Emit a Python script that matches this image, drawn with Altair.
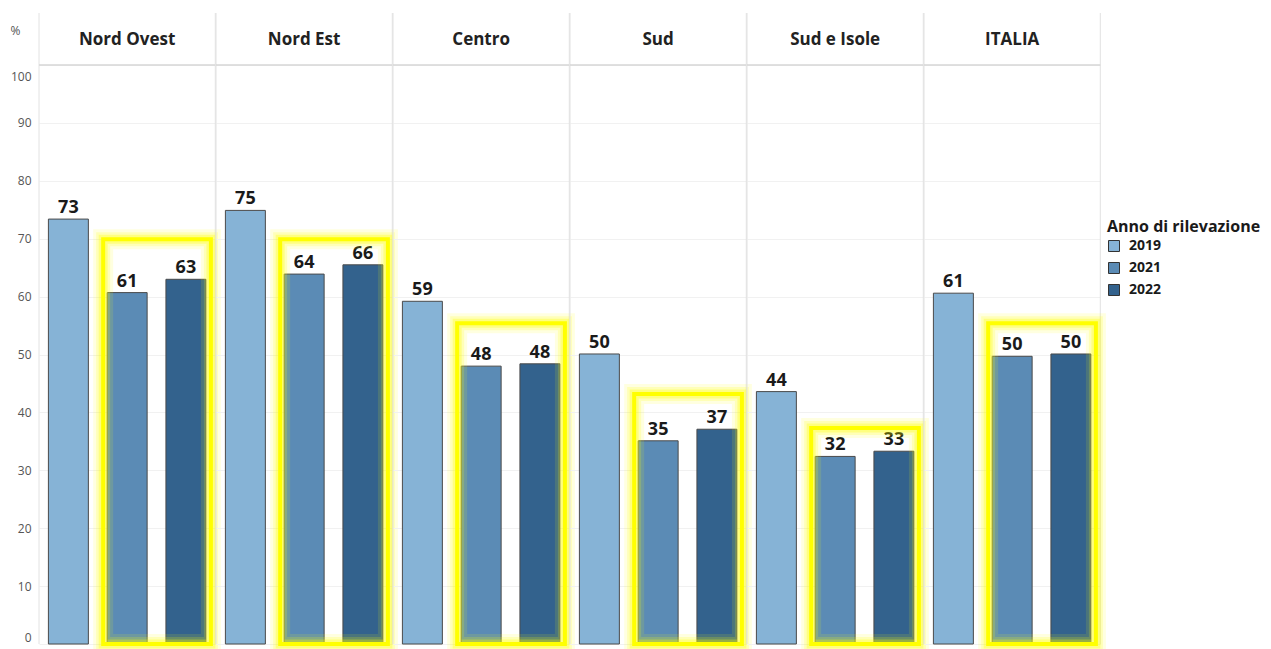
import altair as alt
import pandas as pd

regions = ["Nord Ovest", "Nord Est", "Centro", "Sud", "Sud e Isole", "ITALIA"]
years = ["2019", "2021", "2022"]
v2019 = [73.4, 74.9, 59.2, 50.1, 43.6, 60.6]
v2021 = [60.7, 63.9, 48.0, 35.1, 32.4, 49.7]
v2022 = [63.0, 65.5, 48.4, 37.1, 33.3, 50.1]
box_top = [69.9, 69.9, 55.4, 43.2, 37.3, 55.4]
colors = ["#86b3d6", "#5b8bb5", "#33628d"]
y_ticks = [0, 10, 20, 30, 40, 50, 60, 70, 80, 90, 100]

rows = []
for i, r in enumerate(regions):
    for y, vals in zip(years, [v2019, v2021, v2022]):
        rows.append({"region": r, "kind": "bar", "year": y, "value": vals[i]})
    rows.append({"region": r, "kind": "box", "start": "2021", "end": "2022",
                 "top": box_top[i]})
    rows.append({"region": r, "kind": "head", "mid": "2021"})
df = pd.DataFrame(rows)

W, H = 176.3, 631
xscale = alt.Scale(domain=years, paddingInner=0.32, paddingOuter=0.16)
yscale = alt.Scale(domain=[0, 109], nice=False)
FONT = "Open Sans"

base = alt.Chart()

bars = base.transform_filter(alt.datum.kind == "bar").mark_bar(
    stroke="#4a4a4a", strokeWidth=1
).encode(
    x=alt.X("year:N", scale=xscale, axis=None),
    y=alt.Y("value:Q", scale=yscale,
            axis=alt.Axis(values=y_ticks, title="%", grid=True, gridColor="#f1f1f1",
                          domain=False, ticks=False, labelFontSize=12,
                          labelColor="#555555", labelPadding=8, labelFont=FONT,
                          labelFlush=True,
                          labelOffset={"condition": {"test": "datum.value == 100",
                                                     "value": 11},
                                       "value": 0},
                          titleAngle=0, titleX=-29, titleY=17, titleAlign="left",
                          titleBaseline="middle", titleFontSize=12,
                          titleFontWeight="normal", titleColor="#555555",
                          titleFont=FONT)),
    color=alt.Color("year:N", scale=alt.Scale(domain=years, range=colors),
                    legend=alt.Legend(title="Anno di rilevazione", orient="none",
                                      legendX=1068, legendY=206,
                                      titleFontSize=16, titleFontWeight="bold",
                                      titleColor="#1a1a1a", titleFont=FONT,
                                      labelFontSize=14, labelFontWeight="bold",
                                      labelColor="#1a1a1a", labelFont=FONT,
                                      labelOffset=8,
                                      symbolType="square", symbolSize=121,
                                      symbolStrokeColor="#333333",
                                      symbolStrokeWidth=1, rowPadding=6,
                                      titlePadding=4)),
)

labels = base.transform_filter(alt.datum.kind == "bar").mark_text(
    baseline="alphabetic", dy=-6, fontSize=18, fontWeight="bold",
    font=FONT, color="#1a1a1a"
).encode(
    x=alt.X("year:N", scale=xscale, axis=None),
    y=alt.Y("value:Q", scale=yscale),
    text=alt.Text("value:Q", format=".0f"),
)

def glow(width, opacity):
    return base.transform_filter(alt.datum.kind == "box").mark_rect(
        fillOpacity=0, stroke="#ffff00", strokeWidth=width,
        strokeOpacity=opacity, xOffset=-4, x2Offset=5
    ).encode(
        x=alt.X("start:N", scale=xscale, axis=None, bandPosition=0),
        x2=alt.X2("end", bandPosition=1),
        y=alt.Y("top:Q", scale=yscale),
        y2=alt.datum(0),
    )

glows = [glow(20, 0.12), glow(14, 0.18), glow(9, 0.3), glow(4, 1.0)]

header = base.transform_filter(alt.datum.kind == "head").mark_text(
    fontSize=17, fontWeight="bold", font=FONT, color="#222222", baseline="middle"
).encode(
    x=alt.X("mid:N", scale=xscale, axis=None),
    y=alt.datum(104.4),
    text="region:N",
)

head_line = base.transform_filter(alt.datum.kind == "head").mark_rule(
    color="#d6d6d6", strokeWidth=1.5
).encode(y=alt.datum(100))

vline_l = base.transform_filter(alt.datum.kind == "head").mark_rule(
    color="#e2e2e2", strokeWidth=1
).encode(x=alt.value(0))
vline_r = base.transform_filter(alt.datum.kind == "head").mark_rule(
    color="#e2e2e2", strokeWidth=1
).encode(x=alt.value(W))

layered = alt.layer(vline_l, vline_r, head_line, bars, labels, *glows, header).properties(
    width=W, height=H
)

chart = layered.facet(
    data=df,
    column=alt.Column("region:N", sort=regions,
                      header=alt.Header(labels=False, title=None)),
    spacing=0,
    bounds="flush",
).properties(
    padding={"left": 10, "top": 12, "right": 5, "bottom": 5}
).configure_view(strokeOpacity=0)

chart.save("out.html", embed_options={"renderer": "svg", "actions": False})
